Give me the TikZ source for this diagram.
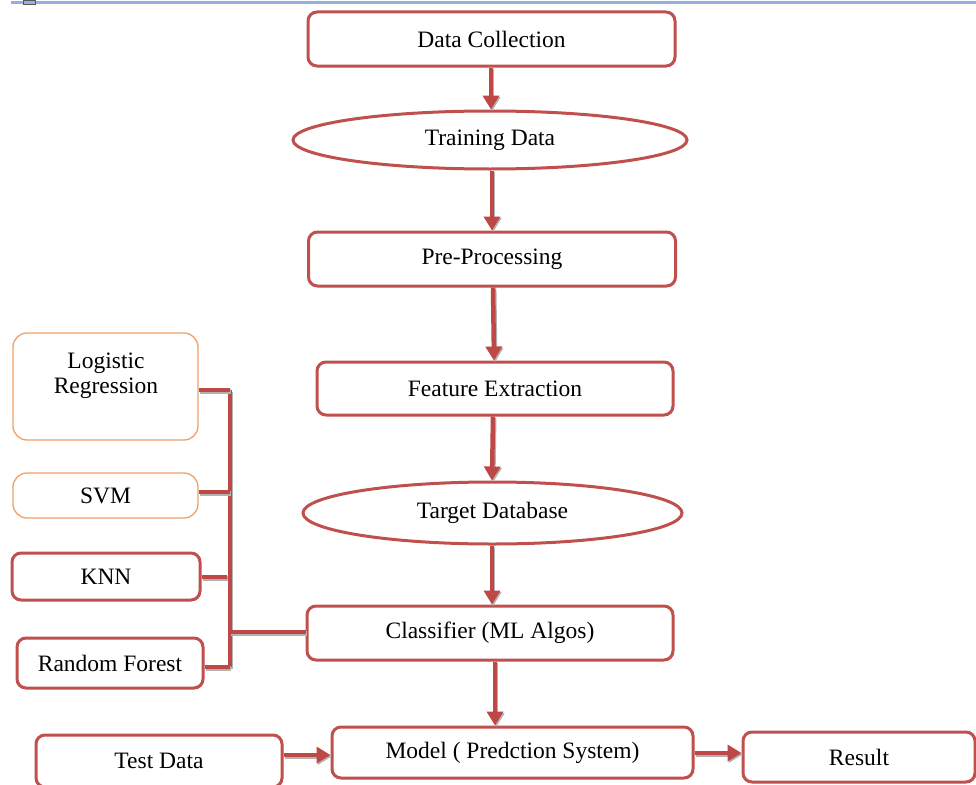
\documentclass[tikz,border=0pt]{standalone}
\usepackage{fontspec}
\setmainfont{Liberation Serif}
\newfontfamily\tnrfont{Liberation Serif}
\usetikzlibrary{arrows.meta,shapes.geometric,shadows}
\definecolor{boxred}{RGB}{192,80,77}
\definecolor{arrred}{RGB}{190,72,70}
\definecolor{boxorange}{RGB}{242,160,100}
\definecolor{topblue}{RGB}{150,176,222}
\tikzset{
  txt/.style={font=\tnrfont\fontsize{23.5}{25.5}\selectfont, text=black},
  mainbox/.style={txt, draw=boxred, line width=3pt, rounded corners=9pt, fill=white,
    drop shadow={shadow xshift=1pt, shadow yshift=-1pt, opacity=0.35}},
  orbox/.style={txt, draw=boxorange, line width=1.3pt, rounded corners=14pt, fill=white},
  ellbox/.style={txt, ellipse, draw=boxred, line width=3pt, fill=white, inner sep=0pt},
  conn/.style={draw=arrred, line width=4.5pt,
    preaction={draw=gray!60, line width=4.5pt, transform canvas={shift={(1.2pt,-1.5pt)}}}},
  flow/.style={conn, -{Triangle[width=16pt,length=14pt]}},
}
\begin{document}
\begin{tikzpicture}[x=1pt,y=-1pt]
\clip (0,0) rectangle (976,784);
\fill[white] (0,0) rectangle (976,784);
% top blue rule and small mark
\draw[topblue, line width=3pt] (11,3) -- (976,3);
\draw[gray!70!black, line width=0.8pt] (23,0) rectangle (35,4);

% main flow
\node[mainbox, minimum width=367, minimum height=54] (dc) at (491.5,39) {Data Collection};
\node[ellbox, minimum width=394, minimum height=58] (td) at (490,140) {Training Data};
\node[mainbox, minimum width=367, minimum height=54] (pp) at (492,259) {Pre-Processing};
\node[mainbox, minimum width=356, minimum height=53] (fe) at (495,388.5) {Feature Extraction};
\node[ellbox, minimum width=379, minimum height=62] (tdb) at (492.5,513) {Target Database};
\node[mainbox, minimum width=366, minimum height=54] (cls) at (490,633) {Classifier (ML Algos)};
\node[mainbox, minimum width=361, minimum height=51] (model) at (512.5,752.5) {Model ( Predction System)};
\node[mainbox, minimum width=246, minimum height=52] (test) at (159,761) {Test Data};
\node[mainbox, minimum width=232, minimum height=50] (res) at (859,757) {Result};

% algorithm boxes
\node[orbox, minimum width=185, minimum height=107] (lr) at (105.5,386.5) {};
\node[txt, align=center] (lrt) at (106,376) {Logistic\\Regression};
\node[orbox, minimum width=185, minimum height=45] (svm) at (105.5,495.5) {SVM};
\node[mainbox, minimum width=188, minimum height=47] (knn) at (106,576.5) {KNN};
\node[mainbox, minimum width=186, minimum height=50] (rf) at (110,663) {Random Forest};

% flow arrows
\draw[flow] (dc.south -| 491,0) -- (td.north -| 491,0);
\draw[flow] (td.south -| 492,0) -- (pp.north -| 492,0);
\draw[flow] (pp.south -| 493,0) -- (fe.north -| 494,0);
\draw[flow] (fe.south -| 493,0) -- (tdb.north -| 492,0);
\draw[flow] (tdb.south -| 492,0) -- (cls.north -| 492,0);
\draw[flow] (cls.south -| 495,0) -- (model.north -| 495,0);
\draw[flow] (test.east |- 0,755) -- (model.west |- 0,755);
\draw[flow] (model.east |- 0,753) -- (res.west |- 0,753);

% algorithm connectors
\coordinate (jt) at (230,390);
\coordinate (jb) at (230,667);
\coordinate (jc) at (230,632);
\draw[conn] (jt) -- (jb);
\draw[conn] (lr.east |- jt) -- (jt);
\draw[conn] (svm.east |- 0,492) -- (230,492);
\draw[conn] (knn.east |- 0,577) -- (227,577);
\draw[conn] (rf.east |- jb) -- (jb);
\draw[conn] (jc) -- (cls.west |- jc);
\end{tikzpicture}
\end{document}
